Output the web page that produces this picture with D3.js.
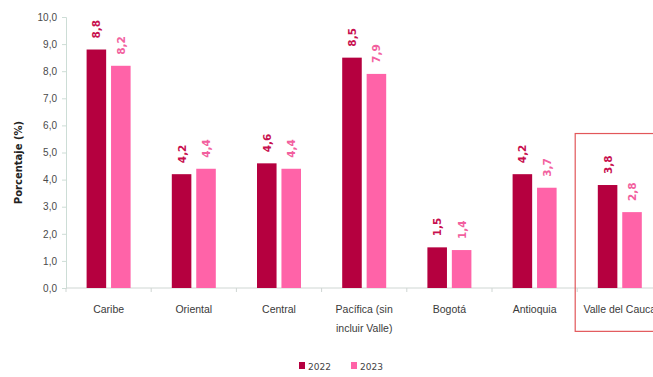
<html lang="es">
<head>
  <meta charset="UTF-8">
  <title>Porcentaje por región</title>
  <script src="https://d3js.org/d3.v7.min.js"></script>
</head>
<style>
  body { margin: 0; background: #fff; }
  svg { font-family: "DejaVu Sans", sans-serif; }
  .y.axis .domain { stroke: #cdddd6; }
  .y.axis line { stroke: #cdddd6; }
  .y.axis text { fill: #4a4a4a; font-size: 10px; }
  .x.axis .domain { stroke: #cfd6d3; }
  .x.axis text { fill: #3a3a3a; font-size: 10.5px; }
</style>
<body>
  <svg class="chart" width="653" height="377"></svg>
  <script>
    const regions = ['Caribe', 'Oriental', 'Central', 'Pacífica (sin incluir Valle)', 'Bogotá', 'Antioquia', 'Valle del Cauca'];
    const years = ['2022', '2023'];
    const values2022 = [8.8, 4.2, 4.6, 8.5, 1.5, 4.2, 3.8];
    const values2023 = [8.2, 4.4, 4.4, 7.9, 1.4, 3.7, 2.8];
    const yTicks = [0, 1, 2, 3, 4, 5, 6, 7, 8, 9, 10];

    const barColor = { '2022': '#b5003f', '2023': '#ff63a8' };
    const labelColor = { '2022': '#c8104f', '2023': '#f2609e' };
    const fmt = v => v.toFixed(1).replace('.', ',');

    const svg = d3.select('svg.chart');
    const margins = { left: 66, top: 17, bottom: 89 };
    const chartHeight = 377 - margins.top - margins.bottom;

    const xScale = d3.scaleBand().domain(regions).range([margins.left, margins.left + 7 * 85.2]);
    const inner = d3.scaleBand().domain(years).range([0, 44]).paddingInner(0.2);
    const yScale = d3.scaleLinear().domain([0, 10]).range([margins.top + chartHeight, margins.top]);

    // y axis
    svg.append('g')
      .attr('class', 'y axis')
      .attr('transform', `translate(${margins.left},0)`)
      .call(d3.axisLeft(yScale).tickValues(yTicks).tickSize(4).tickPadding(5).tickFormat(fmt));

    // x axis (labels only, boundary ticks drawn below)
    const xAxis = svg.append('g')
      .attr('class', 'x axis')
      .attr('transform', `translate(0,${yScale(0)})`)
      .call(d3.axisBottom(xScale).tickSize(0).tickPadding(18));
    xAxis.select('.domain').attr('d', `M${margins.left},0H653`);
    xAxis.selectAll('.tick text').each(function (d) {
      const t = d3.select(this);
      if (d.startsWith('Pacífica')) {
        t.text(null);
        t.append('tspan').attr('x', 0).attr('dy', '0.71em').text('Pacífica (sin');
        t.append('tspan').attr('x', 0).attr('dy', '1.75em').text('incluir Valle)');
        t.attr('y', 18).attr('dy', null);
      }
    });
    svg.append('g').selectAll('line')
      .data(regions)
      .join('line')
      .attr('x1', d => xScale(d))
      .attr('x2', d => xScale(d))
      .attr('y1', yScale(0))
      .attr('y2', yScale(0) + 4)
      .attr('stroke', '#cfd6d3');

    const rows = [];
    regions.forEach((r, i) => {
      rows.push({ region: r, year: '2022', value: values2022[i] });
      rows.push({ region: r, year: '2023', value: values2023[i] });
    });
    const offset = (xScale.bandwidth() - 44) / 2;

    svg.append('g').selectAll('rect')
      .data(rows)
      .join('rect')
      .attr('x', d => xScale(d.region) + offset + inner(d.year))
      .attr('y', d => yScale(d.value))
      .attr('width', inner.bandwidth())
      .attr('height', d => yScale(0) - yScale(d.value))
      .attr('fill', d => barColor[d.year]);

    svg.append('g').selectAll('text')
      .data(rows)
      .join('text')
      .attr('transform', d => {
        const cx = xScale(d.region) + offset + inner(d.year) + inner.bandwidth() / 2 + 4;
        return `translate(${cx},${yScale(d.value) - 11}) rotate(-90)`;
      })
      .attr('font-size', '10.5px')
      .attr('font-weight', 'bold')
      .attr('fill', d => labelColor[d.year])
      .text(d => fmt(d.value));

    // highlight box around Valle del Cauca
    svg.append('rect')
      .attr('x', xScale('Valle del Cauca') - 2)
      .attr('y', yScale(5.7))
      .attr('width', 120)
      .attr('height', yScale(-1.6) - yScale(5.7))
      .attr('fill', 'none')
      .attr('stroke', '#e2575a')
      .attr('stroke-width', 1.2);

    // y title
    svg.append('text')
      .attr('transform', `translate(22,${margins.top + chartHeight / 2 + 10}) rotate(-90)`)
      .attr('text-anchor', 'middle')
      .attr('font-size', '10px')
      .attr('font-weight', 'bold')
      .attr('fill', '#222')
      .text('Porcentaje (%)');

    // legend
    const legend = svg.append('g').attr('transform', 'translate(299,366)');
    years.forEach((y, i) => {
      const g = legend.append('g').attr('transform', `translate(${i * 52},0)`);
      g.append('rect').attr('x', 0).attr('y', -4).attr('width', 6).attr('height', 7).attr('fill', barColor[y]);
      g.append('text').attr('x', 9).attr('y', 3.5).attr('font-size', '9px').attr('fill', '#444').text(y);
    });
  </script>
</body>
</html>
